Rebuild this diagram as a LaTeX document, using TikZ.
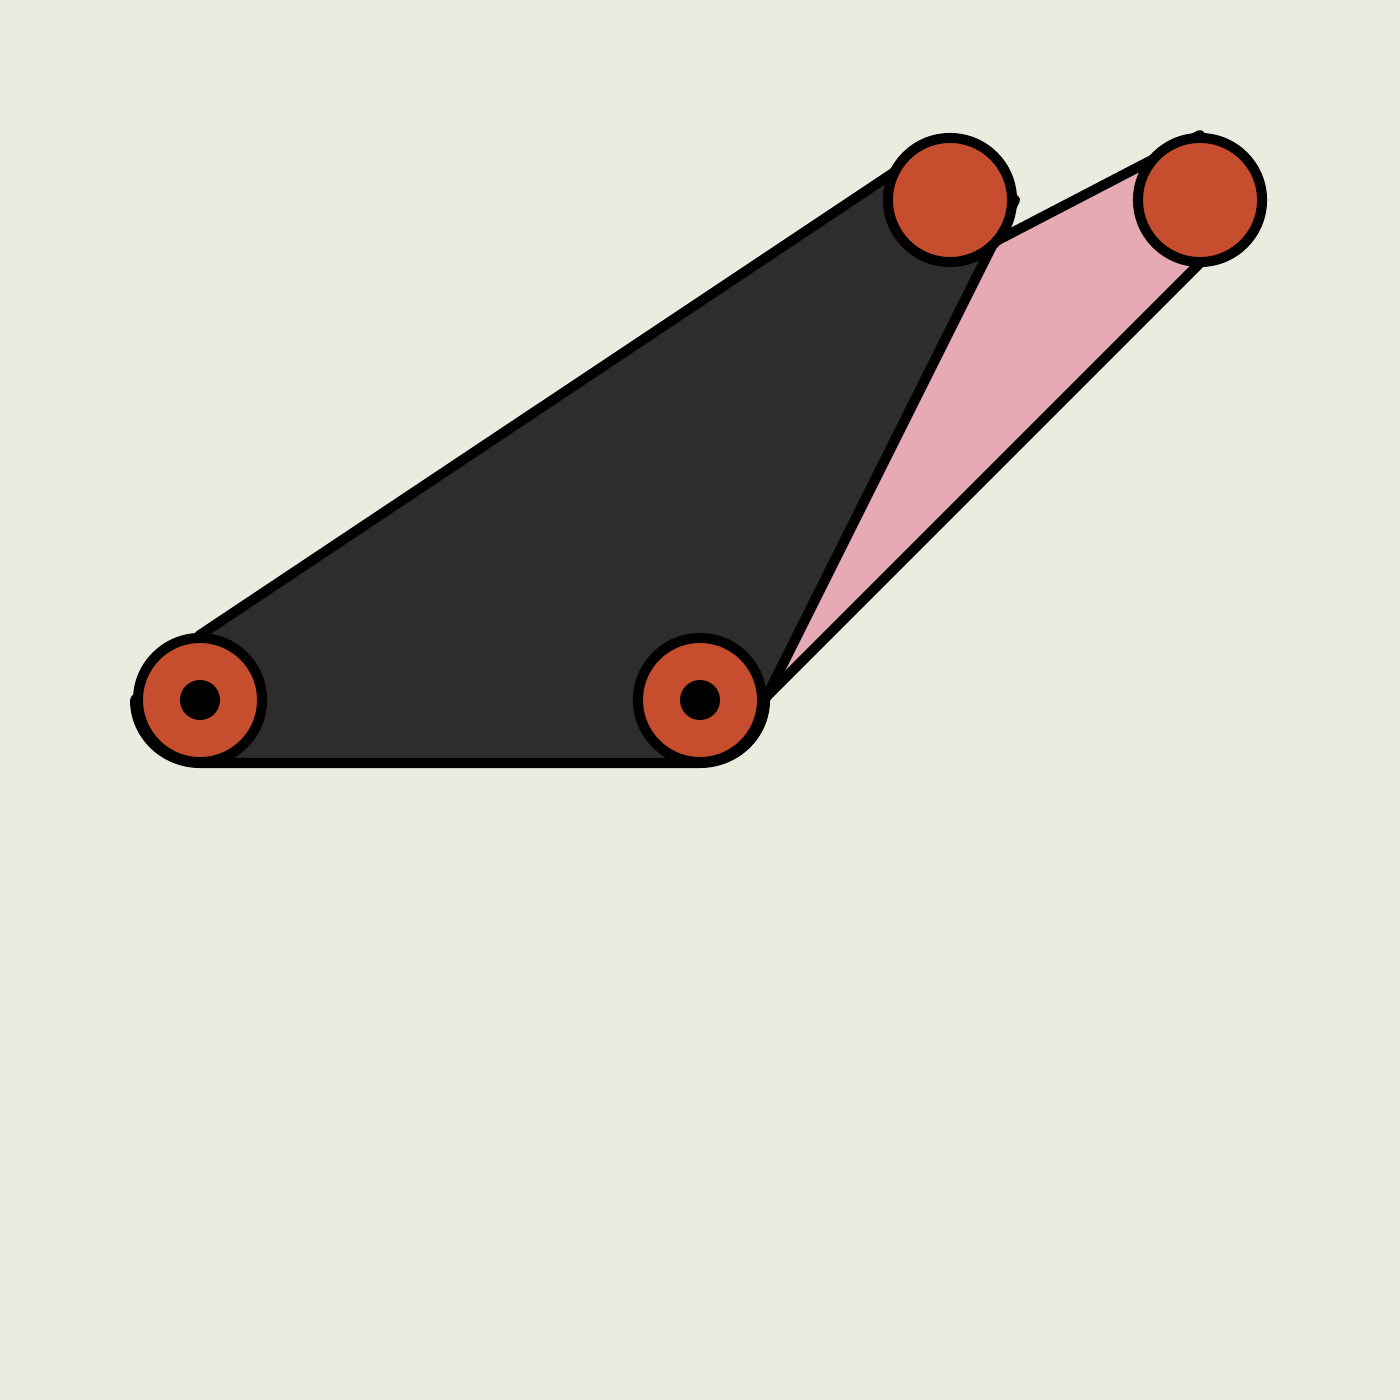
\documentclass[tikz,border=0pt]{standalone}
\definecolor{bgc}{HTML}{EBEBDF}
\definecolor{darkc}{HTML}{2E2D2B}
\definecolor{pinkc}{HTML}{E5AAB4}
\definecolor{pinc}{HTML}{C64D2E}
\tikzset{
  link/.style={draw=black, line width=2.85pt, line join=round},
  pinnode/.style={circle, draw=black, line width=2.85pt, fill=pinc, minimum size=1.24cm, inner sep=0pt},
  pivotdot/.style={circle, fill=black, minimum size=0.4cm, inner sep=0pt}
}
\begin{document}
\begin{tikzpicture}[x=0.01cm, y=-0.01cm]
\fill[bgc] (0,0) rectangle (1400,1400);
\useasboundingbox (0,0) rectangle (1400,1400);
% coupler link (pink), drawn below
\draw[link, fill=pinkc] (700,763) -- (1240,223) -- (1200,135) -- (950,265) -- (700,700) -- cycle;
% ground/crank link (dark)
\draw[link, fill=darkc] (135,700) -- (200,635) -- (940,141.7) -- (1015,200) -- (765,700)
  arc[start angle=0, end angle=-90, x radius=65, y radius=-63] -- (200,763)
  arc[start angle=-90, end angle=-180, x radius=65, y radius=-63] -- cycle;
% joints
\node[pinnode] (pa) at (200,700) {};
\node[pinnode] (pb) at (700,700) {};
\node[pinnode] (pc) at (950,200) {};
\node[pinnode] (pd) at (1200,200) {};
\node[pivotdot] (da) at (pa) {};
\node[pivotdot] (db) at (pb) {};
\end{tikzpicture}
\end{document}
